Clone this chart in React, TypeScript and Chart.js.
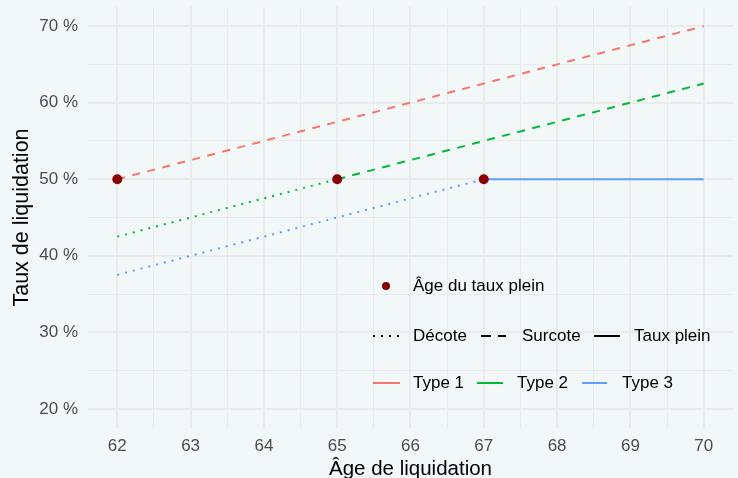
import React, { useEffect, useRef } from "react";
import { Chart, registerables } from "chart.js";

Chart.register(...registerables);

// ---- Data ----
const xMajorTicks = [62, 63, 64, 65, 66, 67, 68, 69, 70];
const xMinorTicks = [62.5, 63.5, 64.5, 65.5, 66.5, 67.5, 68.5, 69.5];
const yMajorTicks = [20, 30, 40, 50, 60, 70];
const yMinorTicks = [25, 35, 45, 55, 65];

const fullRateAges = [62, 65, 67];
const fullRateRates = [50, 50, 50];

const type1SurcoteAges = [62, 70];
const type1SurcoteRates = [50, 70];

const type2DecoteAges = [62, 65];
const type2DecoteRates = [42.5, 50];
const type2SurcoteAges = [65, 70];
const type2SurcoteRates = [50, 62.5];

const type3DecoteAges = [62, 67];
const type3DecoteRates = [37.5, 50];
const type3TauxPleinAges = [67, 70];
const type3TauxPleinRates = [50, 50];

const pointLabel = ["Âge du taux plein"];
const lineTypeLabels = ["Décote", "Surcote", "Taux plein"];
const typeLabels = ["Type 1", "Type 2", "Type 3"];

// ---- Styles ----
const BG = "rgb(242,247,247)";
const GRID = "#ebebeb";
const COL1 = "#F8766D";
const COL2 = "#00BA38";
const COL3 = "#619CFF";
const POINT = "#8B0000";
const DOTTED = [2, 6];
const DASHED = [8, 7.5];
const FONT = '"Liberation Sans", Arial, Helvetica, sans-serif';

const toXY = (xs: number[], ys: number[]) => xs.map((x, i) => ({ x, y: ys[i] }));

const lineDs = (label: string, xs: number[], ys: number[], color: string, dash: number[]) => ({
  label,
  data: toXY(xs, ys),
  showLine: true,
  borderColor: color,
  backgroundColor: color,
  borderWidth: 2,
  borderDash: dash,
  borderCapStyle: "butt" as const,
  pointRadius: 0,
  pointHoverRadius: 0,
  fill: false,
});

const bgPlugin = {
  id: "bgFill",
  beforeDraw(chart: any) {
    const { ctx, width, height } = chart;
    ctx.save();
    ctx.fillStyle = BG;
    ctx.fillRect(0, 0, width, height);
    ctx.restore();
  },
};

const legendPlugin = {
  id: "customLegend",
  afterDatasetsDraw(chart: any) {
    const ctx = chart.ctx;
    ctx.save();
    ctx.font = `17px ${FONT}`;
    ctx.textBaseline = "middle";
    ctx.textAlign = "left";
    ctx.fillStyle = "#000";

    // Row 1: point
    const r1 = 286;
    ctx.beginPath();
    ctx.fillStyle = POINT;
    ctx.arc(386, r1, 4, 0, Math.PI * 2);
    ctx.fill();
    ctx.fillStyle = "#000";
    ctx.fillText(pointLabel[0], 413, r1);

    const seg = (x1: number, x2: number, y: number, color: string, dash: number[]) => {
      ctx.save();
      ctx.strokeStyle = color;
      ctx.lineWidth = 2;
      ctx.lineCap = "butt";
      ctx.setLineDash(dash);
      ctx.beginPath();
      ctx.moveTo(x1, y);
      ctx.lineTo(x2, y);
      ctx.stroke();
      ctx.restore();
    };

    // Row 2: line types
    const r2 = 336;
    const ltDash = [DOTTED, [10, 7], []];
    const ltSeg = [[373, 400], [481, 506], [594, 620]];
    const ltText = [413, 522, 634];
    lineTypeLabels.forEach((lab, i) => {
      seg(ltSeg[i][0], ltSeg[i][1], r2, "#000", ltDash[i]);
      ctx.fillStyle = "#000";
      ctx.fillText(lab, ltText[i], r2);
    });

    // Row 3: types
    const r3 = 383;
    const tCol = [COL1, COL2, COL3];
    const tSeg = [[373, 400], [477, 503], [582, 607]];
    const tText = [413, 517, 622];
    typeLabels.forEach((lab, i) => {
      seg(tSeg[i][0], tSeg[i][1], r3, tCol[i], []);
      ctx.fillStyle = "#000";
      ctx.fillText(lab, tText[i], r3);
    });
    ctx.restore();
  },
};

export default function App() {
  const ref = useRef<HTMLCanvasElement | null>(null);

  useEffect(() => {
    document.body.style.margin = "0";
    document.body.style.background = BG;
    if (!ref.current) return;
    const chart = new Chart(ref.current, {
      type: "scatter",
      data: {
        datasets: [
          {
            label: pointLabel[0],
            data: toXY(fullRateAges, fullRateRates),
            pointRadius: 5,
            pointHoverRadius: 5,
            pointBackgroundColor: POINT,
            pointBorderColor: POINT,
            pointBorderWidth: 0,
            showLine: false,
          } as any,
          lineDs("Type 1 Surcote", type1SurcoteAges, type1SurcoteRates, COL1, DASHED),
          lineDs("Type 2 Décote", type2DecoteAges, type2DecoteRates, COL2, DOTTED),
          lineDs("Type 2 Surcote", type2SurcoteAges, type2SurcoteRates, COL2, DASHED),
          lineDs("Type 3 Décote", type3DecoteAges, type3DecoteRates, COL3, DOTTED),
          lineDs("Type 3 Taux plein", type3TauxPleinAges, type3TauxPleinRates, COL3, []),
        ],
      },
      options: {
        responsive: false,
        maintainAspectRatio: false,
        animation: false,
        layout: { padding: { top: 7, right: 4, left: 0, bottom: 0 } },
        plugins: {
          legend: { display: false },
          tooltip: { enabled: false },
        },
        scales: {
          x: {
            type: "linear",
            min: 61.6,
            max: 70.4,
            afterBuildTicks: (axis: any) => {
              axis.ticks = [...xMajorTicks, ...xMinorTicks].sort((a, b) => a - b).map((v) => ({ value: v }));
            },
            afterFit: (axis: any) => {
              axis.height = 50;
              axis.paddingLeft = 0;
              axis.paddingRight = 0;
            },
            ticks: {
              autoSkip: false,
              maxRotation: 0,
              padding: 8,
              color: "#4d4d4d",
              font: { family: FONT, size: 17 },
              callback: (v: any) => (xMajorTicks.includes(Number(v)) ? String(v) : ""),
            },
            grid: {
              drawTicks: false,
              color: GRID,
              lineWidth: (c: any) => (c.tick && xMajorTicks.includes(c.tick.value) ? 2 : 1),
            },
            border: { display: false },
            title: {
              display: true,
              text: "Âge de liquidation",
              color: "#000",
              font: { family: FONT, size: 20.5, lineHeight: 0.8 },
              padding: { top: 0, bottom: 0 },
            },
          },
          y: {
            type: "linear",
            min: 17.5,
            max: 72.5,
            afterBuildTicks: (axis: any) => {
              axis.ticks = [...yMajorTicks, ...yMinorTicks].sort((a, b) => a - b).map((v) => ({ value: v }));
            },
            afterFit: (axis: any) => {
              axis.width = 88;
              axis.paddingTop = 0;
              axis.paddingBottom = 0;
            },
            ticks: {
              autoSkip: false,
              padding: 10,
              color: "#4d4d4d",
              font: { family: FONT, size: 17 },
              callback: (v: any) => (yMajorTicks.includes(Number(v)) ? `${v} %` : ""),
            },
            grid: {
              drawTicks: false,
              color: GRID,
              lineWidth: (c: any) => (c.tick && yMajorTicks.includes(c.tick.value) ? 2 : 1),
            },
            border: { display: false },
            title: {
              display: true,
              text: "Taux de liquidation",
              color: "#000",
              font: { family: FONT, size: 21.5, lineHeight: 1 },
              padding: { top: 11, bottom: 0 },
            },
          },
        },
      },
      plugins: [bgPlugin, legendPlugin],
    });
    return () => chart.destroy();
  }, []);

  return (
    <div style={{ width: 738, height: 478 }}>
      <canvas ref={ref} width={738} height={478} style={{ display: "block" }} />
    </div>
  );
}
